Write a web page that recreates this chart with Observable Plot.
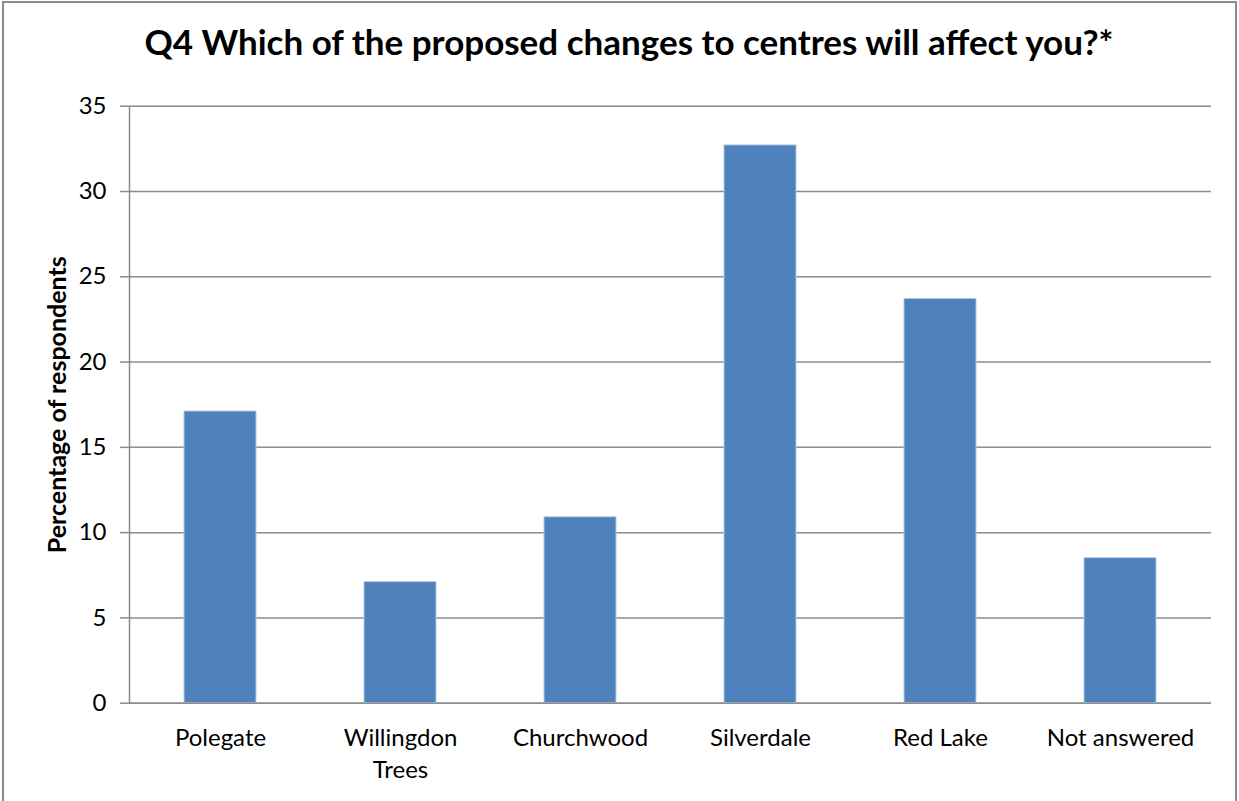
<!DOCTYPE html>
<html>
<head>
<meta charset="utf-8">
<script src="https://cdn.jsdelivr.net/npm/d3@7"></script>
<script src="https://cdn.jsdelivr.net/npm/@observablehq/plot@0.6"></script>
<style>
  html, body { margin: 0; padding: 0; background: #fff; overflow: hidden; }
  #wrap { position: relative; width: 1239px; height: 801px; }
  #frame { position: absolute; left: 2px; top: 1px; width: 1235px; height: 830px;
           border: 2px solid #8a8a8a; box-sizing: border-box; }
  #title { position: absolute; left: 0; width: 1258px; top: 20px; text-align: center;
           font-family: Lato, sans-serif; font-weight: bold; font-size: 35px; color: #000; }
  #chart { position: absolute; left: 0; top: 0; }
</style>
</head>
<body>
<div id="wrap">
  <div id="frame"></div>
  <div id="title">Q4 Which of the proposed changes to centres will affect you?*</div>
  <div id="chart"></div>
</div>
<script>
const categories = ["Polegate", "Willingdon Trees", "Churchwood", "Silverdale", "Red Lake", "Not answered"];
const values = [17.1, 7.1, 10.9, 32.7, 23.7, 8.5];
const yTicks = [0, 5, 10, 15, 20, 25, 30, 35];
const categoryLabels = ["Polegate", "Willingdon\nTrees", "Churchwood", "Silverdale", "Red Lake", "Not answered"];

const data = categories.map((c, i) => ({category: c, value: values[i]}));
const labelOf = new Map(categories.map((c, i) => [c, categoryLabels[i]]));

const chart = Plot.plot({
  width: 1239,
  height: 801,
  marginLeft: 129,
  marginRight: 28,
  marginTop: 105.7,
  marginBottom: 98.3,
  style: {fontFamily: "Lato, sans-serif", background: "transparent", color: "#000"},
  x: {domain: categories, paddingInner: 0.6, paddingOuter: 0.3, label: null},
  y: {domain: [0, 35], label: null},
  marks: [
    Plot.gridY(yTicks, {stroke: "#8c8c8c", strokeOpacity: 1, strokeWidth: 1.5}),
    Plot.axisY(yTicks, {tickSize: 9, tickPadding: 14, stroke: "#8c8c8c", strokeOpacity: 1, strokeWidth: 1.5,
      fontSize: 24, fill: "#000", label: null}),
    Plot.frame({anchor: "left", stroke: "#8c8c8c", strokeWidth: 1.5}),
    Plot.barY(data, {x: "category", y: "value", fill: "#4F81BD", stroke: "#b3c8e3", strokeWidth: 1}),
    Plot.ruleY([0], {stroke: "#8c8c8c", strokeWidth: 1.5}),
    Plot.axisX({tickSize: 0, tickPadding: 21, fontSize: 24, fill: "#000", lineHeight: 1.3,
      tickFormat: d => labelOf.get(d), label: null}),
    Plot.text(["Percentage of respondents"], {frameAnchor: "left", dx: -72, rotate: -90,
      fontSize: 25, fontWeight: "bold", fill: "#000", textAnchor: "middle"})
  ]
});
document.getElementById("chart").appendChild(chart);
</script>
</body>
</html>
